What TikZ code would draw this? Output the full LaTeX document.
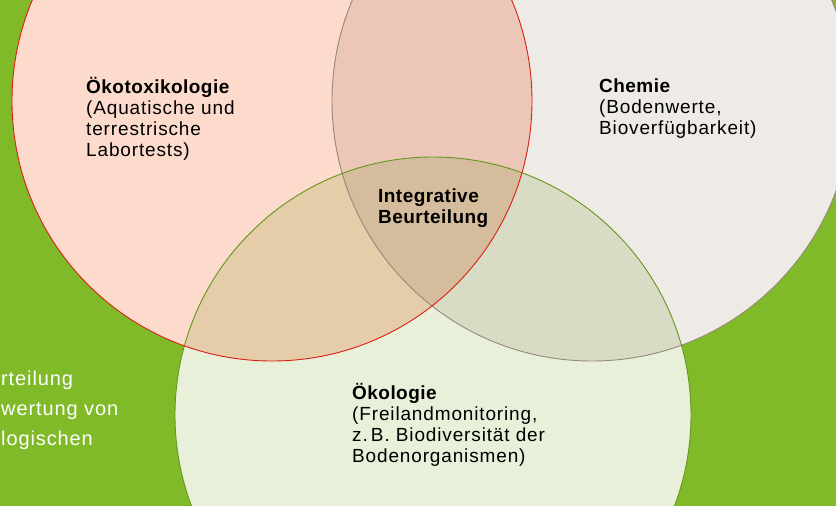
\documentclass[tikz,border=0pt]{standalone}
\usepackage{fontspec}
\setmainfont{Liberation Sans}[LetterSpace=4.5,BoldFeatures={LetterSpace=2.4}]
\definecolor{bggreen}{HTML}{80BA28}
\definecolor{fillA}{HTML}{FCDBCC}
\definecolor{fillB}{HTML}{EEEBE6}
\definecolor{fillC}{HTML}{E8F0DA}
\definecolor{fillAB}{HTML}{ECC6B7}
\definecolor{fillAC}{HTML}{E5CDAA}
\definecolor{fillBC}{HTML}{D9DCC4}
\definecolor{fillABC}{HTML}{D5BC9C}
\definecolor{lineA}{HTML}{DC1E14}
\definecolor{lineB}{HTML}{968778}
\definecolor{lineC}{HTML}{64961E}
\begin{document}
\begin{tikzpicture}[x=1pt,y=-1pt,
  txt/.style={anchor=base west, align=left, inner sep=0pt, font=\fontsize{19}{21}\selectfont, text=black},
  sidetxt/.style={anchor=base west, align=left, inner sep=0pt, font=\fontsize{20}{30}\selectfont, text=white},
  ring/.style={line width=0.9pt}]
\useasboundingbox (0,0) rectangle (836,506);
\path[clip] (0,0) rectangle (836,506);
\fill[bggreen] (0,0) rectangle (836,506);
\def\cA{(272,101) circle[radius=260pt]}
\def\cB{(592,101) circle[radius=260pt]}
\def\cC{(433,415) circle[radius=258pt]}
% base fills
\fill[fillA] \cA;
\fill[fillB] \cB;
\fill[fillC] \cC;
% overlaps
\begin{scope}
  \clip \cA;
  \fill[fillAB] \cB;
  \fill[fillAC] \cC;
\end{scope}
\begin{scope}
  \clip \cB;
  \fill[fillBC] \cC;
  \clip \cC;
  \fill[fillABC] \cA;
\end{scope}
% borders
\draw[ring, lineB] \cB;
\draw[ring, lineC] \cC;
\draw[ring, lineA] \cA;
% texts (anchored at the baseline of the last line)
\node[txt] (oekotox) at (86,156) {\textbf{Ökotoxikologie}\\(Aquatische und\\terrestrische\\Labortests)};
\node[txt] (chemie) at (599,134) {\textbf{Chemie}\\(Bodenwerte,\\Bioverfügbarkeit)};
\node[txt, font=\fontsize{19}{20.5}\selectfont\bfseries] (integ) at (378,223) {Integrative\\Beurteilung};
\node[txt] (oekol) at (352,462) {\textbf{Ökologie}\\(Freilandmonitoring,\\z.\,B. Biodiversität der\\Bodenorganismen)};
\node[sidetxt] (side) at (1,445) {rteilung\\wertung von\\logischen};
\end{tikzpicture}
\end{document}
